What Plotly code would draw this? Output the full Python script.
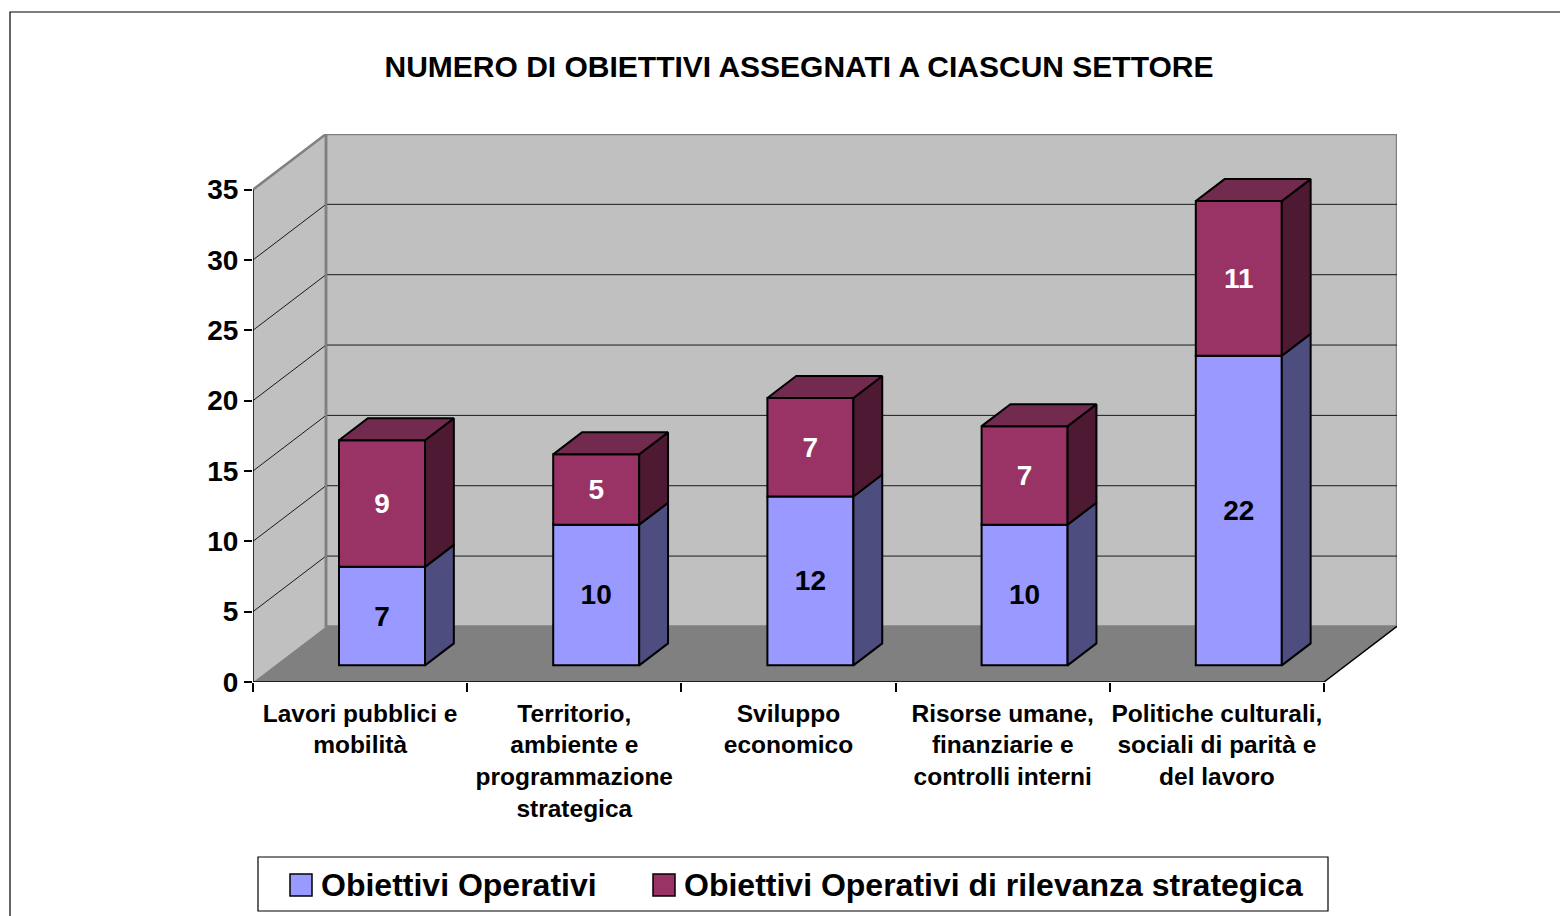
import plotly.graph_objects as go

# ---------------- data ----------------
title_text = "NUMERO DI OBIETTIVI ASSEGNATI A CIASCUN SETTORE"
categories = [
    "Lavori pubblici e<br>mobilità",
    "Territorio,<br>ambiente e<br>programmazione<br>strategica",
    "Sviluppo<br>economico",
    "Risorse umane,<br>finanziarie e<br>controlli interni",
    "Politiche culturali,<br>sociali di parità e<br>del lavoro",
]
operativi = [7, 10, 12, 10, 22]
strategici = [9, 5, 7, 7, 11]
series_names = ["Obiettivi Operativi", "Obiettivi Operativi di rilevanza strategica"]
y_ticks = [0, 5, 10, 15, 20, 25, 30, 35]

# ---------------- style / geometry ----------------
OFF = 8                        # page body margin
W, H = 1568 - OFF, 916 - OFF
ML, MR, MT, MB = 245, 171, 126, 234
YMAX = 35
DX, DY = 0.3408, 3.95          # depth of the 3D box in data units
F0, FD = 0.30, 0.395           # bar depth start and depth fraction
BW = 0.4015                    # bar width
C_BLUE, C_BLUE_SIDE = "#9999ff", "#4d4d80"
C_RED, C_RED_SIDE, C_RED_TOP = "#993366", "#4d1933", "#732a4f"
C_WALL, C_FLOOR, C_EDGE = "#c0c0c0", "#808080", "#808080"
FONT = "Arial, Liberation Sans, sans-serif"

n = len(categories)
xs = list(range(n))
xc = [i + F0 * DX for i in xs]
base0 = F0 * DY
bdx, bdy = FD * DX, FD * DY

blue_base = [base0] * n
red_base = [base0 + v for v in operativi]

fig = go.Figure()

# front faces
fig.add_trace(go.Bar(
    x=xc, y=operativi, base=blue_base, width=BW, name=series_names[0],
    marker=dict(color=C_BLUE, line=dict(color="black", width=2)),
    text=[str(v) for v in operativi], textposition="inside", insidetextanchor="middle",
    textfont=dict(family=FONT, size=28, color="black", weight="bold"),
    showlegend=False, hoverinfo="skip"))
fig.add_trace(go.Bar(
    x=xc, y=strategici, base=red_base, width=BW, name=series_names[1],
    marker=dict(color=C_RED, line=dict(color="black", width=2)),
    text=[str(v) for v in strategici], textposition="inside", insidetextanchor="middle",
    textfont=dict(family=FONT, size=28, color="white", weight="bold"),
    showlegend=False, hoverinfo="skip"))


def side_poly(bases, vals):
    px, py = [], []
    for c, b, v in zip(xc, bases, vals):
        xr = c + BW / 2
        t = b + v
        px += [xr, xr + bdx, xr + bdx, xr, xr, None]
        py += [b, b + bdy, t + bdy, t, b, None]
    return px, py


def top_poly(bases, vals):
    px, py = [], []
    for c, b, v in zip(xc, bases, vals):
        xl, xr = c - BW / 2, c + BW / 2
        t = b + v
        px += [xl, xl + bdx, xr + bdx, xr, xl, None]
        py += [t, t + bdy, t + bdy, t, t, None]
    return px, py


for (bases, vals, col) in [(blue_base, operativi, C_BLUE_SIDE), (red_base, strategici, C_RED_SIDE)]:
    px, py = side_poly(bases, vals)
    fig.add_trace(go.Scatter(x=px, y=py, mode="lines", fill="toself", fillcolor=col,
                             line=dict(color="black", width=2), showlegend=False, hoverinfo="skip"))
px, py = top_poly(red_base, strategici)
fig.add_trace(go.Scatter(x=px, y=py, mode="lines", fill="toself", fillcolor=C_RED_TOP,
                         line=dict(color="black", width=2), showlegend=False, hoverinfo="skip"))

# ---------------- walls & floor ----------------
x0, x1 = -0.5, n - 0.5
shapes = []
shapes.append(dict(type="path", layer="below", xref="x", yref="y",
                   path=f"M{x0},0 L{x0},{YMAX} L{x0+DX},{YMAX+DY} L{x0+DX},{DY} Z",
                   fillcolor=C_WALL, line=dict(width=0)))
shapes.append(dict(type="rect", layer="below", xref="x", yref="y",
                   x0=x0 + DX, x1=x1 + DX, y0=DY, y1=YMAX + DY,
                   fillcolor=C_WALL, line=dict(color=C_EDGE, width=2.5)))
shapes.append(dict(type="path", layer="below", xref="x", yref="y",
                   path=f"M{x0},0 L{x1},0 L{x1+DX},{DY} L{x0+DX},{DY} Z",
                   fillcolor=C_FLOOR, line=dict(width=0)))
for v in y_ticks[1:-1]:
    shapes.append(dict(type="line", layer="below", xref="x", yref="y",
                       x0=x0 + DX, x1=x1 + DX, y0=v + DY, y1=v + DY,
                       line=dict(color="#1a1a1a", width=1)))
    shapes.append(dict(type="line", layer="below", xref="x", yref="y",
                       x0=x0, x1=x0 + DX, y0=v, y1=v + DY,
                       line=dict(color="#1a1a1a", width=1)))
shapes.append(dict(type="line", layer="below", xref="x", yref="y",
                   x0=x0, x1=x0 + DX, y0=YMAX, y1=YMAX + DY, line=dict(color=C_EDGE, width=2.5)))
shapes.append(dict(type="line", layer="below", xref="x", yref="y",
                   x0=x0 + DX, x1=x0 + DX, y0=DY, y1=YMAX + DY, line=dict(color=C_EDGE, width=2.5)))
# axis lines
shapes.append(dict(type="line", xref="x", yref="y", x0=x0, x1=x0, y0=0, y1=YMAX,
                   line=dict(color="black", width=1.5)))
shapes.append(dict(type="line", xref="x", yref="y", x0=x0, x1=x1, y0=0, y1=0,
                   line=dict(color="black", width=1.5)))
shapes.append(dict(type="line", xref="x", yref="y", x0=x1, x1=x1 + DX, y0=0, y1=DY,
                   line=dict(color="black", width=1.5)))

# ---------------- pixel helpers (screen px -> paper) for frame & legend ----------------
PW, PH = W - ML - MR, H - MT - MB


def pxx(p):
    return (p - OFF - ML) / PW


def pxy(p):
    return (H - MB - (p - OFF)) / PH


shapes.append(dict(type="rect", xref="paper", yref="paper",
                   x0=pxx(10), x1=pxx(1600), y0=pxy(940), y1=pxy(12),
                   line=dict(color="black", width=1.2), fillcolor="rgba(0,0,0,0)", layer="below"))

# legend (manual)
shapes.append(dict(type="rect", xref="paper", yref="paper",
                   x0=pxx(258), x1=pxx(1328), y0=pxy(911), y1=pxy(857),
                   line=dict(color="black", width=1.2), fillcolor="white"))
leg_sq = [(290, C_BLUE), (653, C_RED)]
leg_tx = [319, 682]
annotations = []
for (sx, col), tx, name in zip(leg_sq, leg_tx, series_names):
    shapes.append(dict(type="rect", xref="paper", yref="paper",
                       x0=pxx(sx), x1=pxx(sx + 22), y0=pxy(896), y1=pxy(874),
                       line=dict(color="black", width=1.5), fillcolor=col))
    annotations.append(dict(xref="paper", yref="paper", x=pxx(tx), y=pxy(885),
                            xanchor="left", yanchor="middle", showarrow=False, text=name,
                            font=dict(family=FONT, size=32, color="black", weight="bold")))

fig.update_layout(
    width=W, height=H, margin=dict(l=ML, r=MR, t=MT, b=MB, pad=0),
    paper_bgcolor="white", plot_bgcolor="rgba(0,0,0,0)",
    barmode="overlay", shapes=shapes, annotations=annotations,
    title=dict(text=title_text, x=(799 - OFF) / W, xanchor="center", y=1 - (66 - OFF) / H,
               yanchor="middle", yref="container",
               font=dict(family=FONT, size=30, color="black", weight="bold")),
    xaxis=dict(range=[x0, x1 + DX], tickvals=xs, ticktext=categories, ticks="",
               ticklabelstandoff=14,
               showgrid=False, zeroline=False, showline=False,
               tickfont=dict(family=FONT, size=24.5, color="black", weight="bold"),
               minor=dict(tickvals=[i - 0.5 for i in range(n + 1)], ticks="outside",
                          ticklen=9, tickcolor="black", tickwidth=1.5, showgrid=False)),
    yaxis=dict(range=[0, YMAX + DY], tickvals=y_ticks, ticks="outside", ticklen=8,
               tickcolor="black", tickwidth=1.5, showgrid=False, zeroline=False, showline=False,
               tickfont=dict(family=FONT, size=28, color="black", weight="bold")),
)

fig.write_html("out.html")
